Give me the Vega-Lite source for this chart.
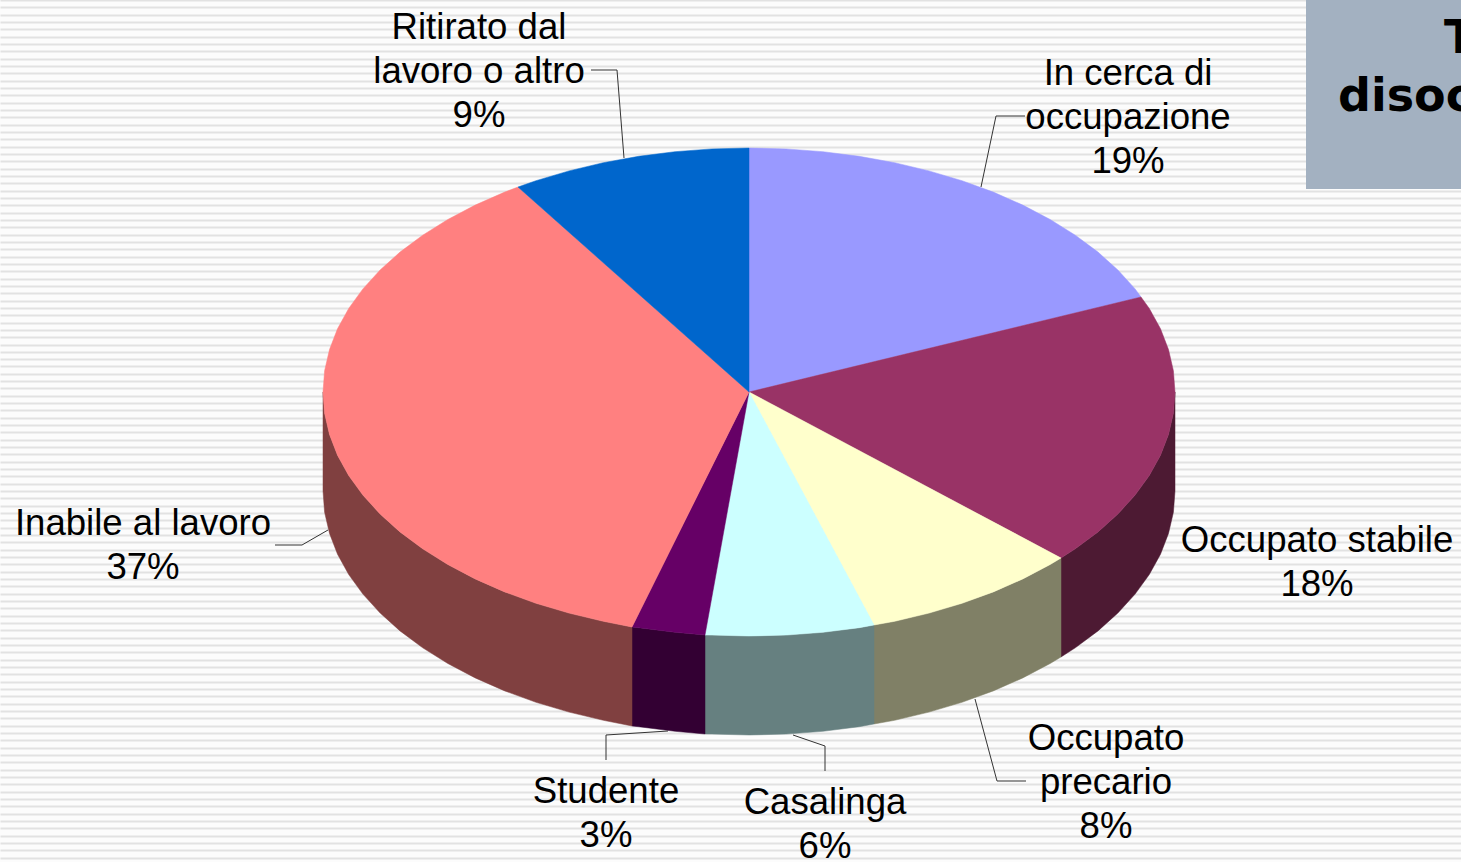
{"$schema":"https://vega.github.io/schema/vega-lite/v6.json","width":1461,"height":862,"padding":0,"autosize":{"type":"none"},"background":"#fcfcfc","config":{"view":{"stroke":null}},
"datasets":{
"shape":[
{"p":"side stabile","x":1175,"y":392},{"p":"side stabile","x":1173.4,"y":413.3},{"p":"side stabile","x":1168.5,"y":434.4},{"p":"side stabile","x":1160.5,"y":455.2},{"p":"side stabile","x":1149.3,"y":475.5},{"p":"side stabile","x":1135.1,"y":495.1},{"p":"side stabile","x":1117.9,"y":514},{"p":"side stabile","x":1098,"y":531.9},{"p":"side stabile","x":1075.3,"y":548.8},{"p":"side stabile","x":1061,"y":558},{"p":"side stabile","x":1061,"y":657},{"p":"side stabile","x":1075.3,"y":647.8},{"p":"side stabile","x":1098,"y":630.9},{"p":"side stabile","x":1117.9,"y":613},{"p":"side stabile","x":1135.1,"y":594.1},{"p":"side stabile","x":1149.3,"y":574.5},{"p":"side stabile","x":1160.5,"y":554.2},{"p":"side stabile","x":1168.5,"y":533.4},{"p":"side stabile","x":1173.4,"y":512.3},{"p":"side stabile","x":1175,"y":491},
{"p":"side precario","x":1061,"y":558},{"p":"side precario","x":1050.2,"y":564.5},{"p":"side precario","x":1022.8,"y":578.9},{"p":"side precario","x":993.3,"y":591.9},{"p":"side precario","x":962,"y":603.3},{"p":"side precario","x":929,"y":613.1},{"p":"side precario","x":894.7,"y":621.3},{"p":"side precario","x":874,"y":625},{"p":"side precario","x":874,"y":724},{"p":"side precario","x":894.7,"y":720.3},{"p":"side precario","x":929,"y":712.1},{"p":"side precario","x":962,"y":702.3},{"p":"side precario","x":993.3,"y":690.9},{"p":"side precario","x":1022.8,"y":677.9},{"p":"side precario","x":1050.2,"y":663.5},{"p":"side precario","x":1061,"y":657},
{"p":"side casalinga","x":874,"y":625},{"p":"side casalinga","x":859.3,"y":627.7},{"p":"side casalinga","x":823,"y":632.3},{"p":"side casalinga","x":786.1,"y":635.1},{"p":"side casalinga","x":749,"y":636},{"p":"side casalinga","x":711.9,"y":635.1},{"p":"side casalinga","x":705,"y":635},{"p":"side casalinga","x":705,"y":734},{"p":"side casalinga","x":711.9,"y":734.1},{"p":"side casalinga","x":749,"y":735},{"p":"side casalinga","x":786.1,"y":734.1},{"p":"side casalinga","x":823,"y":731.3},{"p":"side casalinga","x":859.3,"y":726.7},{"p":"side casalinga","x":874,"y":724},
{"p":"side studente","x":705,"y":635},{"p":"side studente","x":675,"y":632.3},{"p":"side studente","x":638.7,"y":627.7},{"p":"side studente","x":632,"y":627},{"p":"side studente","x":632,"y":726},{"p":"side studente","x":638.7,"y":726.7},{"p":"side studente","x":675,"y":731.3},{"p":"side studente","x":705,"y":734},
{"p":"side inabile","x":632,"y":627},{"p":"side inabile","x":603.3,"y":621.3},{"p":"side inabile","x":569,"y":613.1},{"p":"side inabile","x":536,"y":603.3},{"p":"side inabile","x":504.7,"y":591.9},{"p":"side inabile","x":475.2,"y":578.9},{"p":"side inabile","x":447.8,"y":564.5},{"p":"side inabile","x":422.7,"y":548.8},{"p":"side inabile","x":400,"y":531.9},{"p":"side inabile","x":380.1,"y":514},{"p":"side inabile","x":362.9,"y":495.1},{"p":"side inabile","x":348.7,"y":475.5},{"p":"side inabile","x":337.5,"y":455.2},{"p":"side inabile","x":329.5,"y":434.4},{"p":"side inabile","x":324.6,"y":413.3},{"p":"side inabile","x":323,"y":392},{"p":"side inabile","x":323,"y":491},{"p":"side inabile","x":324.6,"y":512.3},{"p":"side inabile","x":329.5,"y":533.4},{"p":"side inabile","x":337.5,"y":554.2},{"p":"side inabile","x":348.7,"y":574.5},{"p":"side inabile","x":362.9,"y":594.1},{"p":"side inabile","x":380.1,"y":613},{"p":"side inabile","x":400,"y":630.9},{"p":"side inabile","x":422.7,"y":647.8},{"p":"side inabile","x":447.8,"y":663.5},{"p":"side inabile","x":475.2,"y":677.9},{"p":"side inabile","x":504.7,"y":690.9},{"p":"side inabile","x":536,"y":702.3},{"p":"side inabile","x":569,"y":712.1},{"p":"side inabile","x":603.3,"y":720.3},{"p":"side inabile","x":632,"y":726},
{"p":"In cerca","x":749,"y":392},{"p":"In cerca","x":749,"y":148},{"p":"In cerca","x":786.1,"y":148.9},{"p":"In cerca","x":823,"y":151.7},{"p":"In cerca","x":859.3,"y":156.3},{"p":"In cerca","x":894.7,"y":162.7},{"p":"In cerca","x":929,"y":170.9},{"p":"In cerca","x":962,"y":180.7},{"p":"In cerca","x":993.3,"y":192.1},{"p":"In cerca","x":1022.8,"y":205.1},{"p":"In cerca","x":1050.2,"y":219.5},{"p":"In cerca","x":1075.3,"y":235.2},{"p":"In cerca","x":1098,"y":252.1},{"p":"In cerca","x":1117.9,"y":270},{"p":"In cerca","x":1135.1,"y":288.9},{"p":"In cerca","x":1141,"y":297},
{"p":"Stabile","x":749,"y":392},{"p":"Stabile","x":1141,"y":297},{"p":"Stabile","x":1149.3,"y":308.5},{"p":"Stabile","x":1160.5,"y":328.8},{"p":"Stabile","x":1168.5,"y":349.6},{"p":"Stabile","x":1173.4,"y":370.7},{"p":"Stabile","x":1175,"y":392},{"p":"Stabile","x":1173.4,"y":413.3},{"p":"Stabile","x":1168.5,"y":434.4},{"p":"Stabile","x":1160.5,"y":455.2},{"p":"Stabile","x":1149.3,"y":475.5},{"p":"Stabile","x":1135.1,"y":495.1},{"p":"Stabile","x":1117.9,"y":514},{"p":"Stabile","x":1098,"y":531.9},{"p":"Stabile","x":1075.3,"y":548.8},{"p":"Stabile","x":1061,"y":558},
{"p":"Precario","x":749,"y":392},{"p":"Precario","x":1061,"y":558},{"p":"Precario","x":1050.2,"y":564.5},{"p":"Precario","x":1022.8,"y":578.9},{"p":"Precario","x":993.3,"y":591.9},{"p":"Precario","x":962,"y":603.3},{"p":"Precario","x":929,"y":613.1},{"p":"Precario","x":894.7,"y":621.3},{"p":"Precario","x":874,"y":625},
{"p":"Casalinga","x":749,"y":392},{"p":"Casalinga","x":874,"y":625},{"p":"Casalinga","x":859.3,"y":627.7},{"p":"Casalinga","x":823,"y":632.3},{"p":"Casalinga","x":786.1,"y":635.1},{"p":"Casalinga","x":749,"y":636},{"p":"Casalinga","x":711.9,"y":635.1},{"p":"Casalinga","x":705,"y":635},
{"p":"Studente","x":749,"y":392},{"p":"Studente","x":705,"y":635},{"p":"Studente","x":675,"y":632.3},{"p":"Studente","x":638.7,"y":627.7},{"p":"Studente","x":632,"y":627},
{"p":"Inabile","x":749,"y":392},{"p":"Inabile","x":632,"y":627},{"p":"Inabile","x":603.3,"y":621.3},{"p":"Inabile","x":569,"y":613.1},{"p":"Inabile","x":536,"y":603.3},{"p":"Inabile","x":504.7,"y":591.9},{"p":"Inabile","x":475.2,"y":578.9},{"p":"Inabile","x":447.8,"y":564.5},{"p":"Inabile","x":422.7,"y":548.8},{"p":"Inabile","x":400,"y":531.9},{"p":"Inabile","x":380.1,"y":514},{"p":"Inabile","x":362.9,"y":495.1},{"p":"Inabile","x":348.7,"y":475.5},{"p":"Inabile","x":337.5,"y":455.2},{"p":"Inabile","x":329.5,"y":434.4},{"p":"Inabile","x":324.6,"y":413.3},{"p":"Inabile","x":323,"y":392},{"p":"Inabile","x":324.6,"y":370.7},{"p":"Inabile","x":329.5,"y":349.6},{"p":"Inabile","x":337.5,"y":328.8},{"p":"Inabile","x":348.7,"y":308.5},{"p":"Inabile","x":362.9,"y":288.9},{"p":"Inabile","x":380.1,"y":270},{"p":"Inabile","x":400,"y":252.1},{"p":"Inabile","x":422.7,"y":235.2},{"p":"Inabile","x":447.8,"y":219.5},{"p":"Inabile","x":475.2,"y":205.1},{"p":"Inabile","x":504.7,"y":192.1},{"p":"Inabile","x":518,"y":187},
{"p":"Ritirato","x":749,"y":392},{"p":"Ritirato","x":518,"y":187},{"p":"Ritirato","x":536,"y":180.7},{"p":"Ritirato","x":569,"y":170.9},{"p":"Ritirato","x":603.3,"y":162.7},{"p":"Ritirato","x":638.7,"y":156.3},{"p":"Ritirato","x":675,"y":151.7},{"p":"Ritirato","x":711.9,"y":148.9},{"p":"Ritirato","x":749,"y":148}
],
"leaders":[
{"p":"r","x":591,"y":70},{"p":"r","x":617,"y":70},{"p":"r","x":624,"y":158},
{"p":"c","x":1025,"y":116},{"p":"c","x":996,"y":116},{"p":"c","x":981,"y":187},
{"p":"i","x":275,"y":545},{"p":"i","x":302,"y":545},{"p":"i","x":328,"y":530},
{"p":"o","x":1026,"y":781},{"p":"o","x":997,"y":781},{"p":"o","x":975,"y":699},
{"p":"k","x":793,"y":735},{"p":"k","x":825,"y":746},{"p":"k","x":825,"y":771},
{"p":"s","x":668,"y":731},{"p":"s","x":606,"y":735},{"p":"s","x":606,"y":760}
],
"labels":[
{"t":"Ritirato dal\nlavoro o altro\n9%","x":479,"y":39},
{"t":"In cerca di\noccupazione\n19%","x":1128,"y":85},
{"t":"Occupato stabile\n18%","x":1317,"y":552},
{"t":"Occupato\nprecario\n8%","x":1106,"y":750},
{"t":"Casalinga\n6%","x":825,"y":814},
{"t":"Studente\n3%","x":606,"y":803},
{"t":"Inabile al lavoro\n37%","x":143,"y":535}
]
},
"resolve":{"scale":{"y":"independent"}},
"layer":[
{"data":{"values":[{"s":0}]},"mark":{"type":"rule","opacity":0},
"encoding":{"y":{"field":"s","type":"quantitative","scale":{"domain":[0,117.6],"reverse":true,"nice":false},"axis":{"tickCount":118,"grid":true,"gridColor":"#e2e2e2","gridWidth":2,"labels":false,"ticks":false,"domain":false,"title":null}}}},
{"data":{"name":"shape"},"mark":{"type":"line","interpolate":"linear-closed","strokeWidth":0.5},
"encoding":{
"x":{"field":"x","type":"quantitative","scale":{"domain":[0,1461],"nice":false,"zero":false},"axis":null},
"y":{"field":"y","type":"quantitative","scale":{"domain":[862,0],"nice":false,"zero":false},"axis":null},
"order":{"value":null},
"fill":{"field":"p","type":"nominal","legend":null,"sort":null,"scale":{"domain":["side stabile","side precario","side casalinga","side studente","side inabile","In cerca","Stabile","Precario","Casalinga","Studente","Inabile","Ritirato"],"range":["#4d1a33","#808066","#668080","#330033","#804040","#9999ff","#993366","#ffffcc","#ccffff","#660066","#ff8080","#0066cc"]}},
"stroke":{"field":"p","type":"nominal","legend":null,"scale":{"domain":["side stabile","side precario","side casalinga","side studente","side inabile","In cerca","Stabile","Precario","Casalinga","Studente","Inabile","Ritirato"],"range":["#4d1a33","#808066","#668080","#330033","#804040","#9999ff","#993366","#ffffcc","#ccffff","#660066","#ff8080","#0066cc"]}}
}},
{"data":{"name":"leaders"},"mark":{"type":"line","color":"#333333","strokeWidth":1},
"encoding":{
"x":{"field":"x","type":"quantitative","scale":{"domain":[0,1461],"nice":false,"zero":false},"axis":null},
"y":{"field":"y","type":"quantitative","scale":{"domain":[862,0],"nice":false,"zero":false},"axis":null},
"detail":{"field":"p"},"order":{"value":null}}},
{"data":{"name":"labels"},"mark":{"type":"text","font":"Liberation Sans","fontSize":36.6,"lineHeight":44,"lineBreak":"\n","align":"center","baseline":"alphabetic","color":"#000000"},
"encoding":{
"x":{"field":"x","type":"quantitative","scale":{"domain":[0,1461],"nice":false,"zero":false},"axis":null},
"y":{"field":"y","type":"quantitative","scale":{"domain":[862,0],"nice":false,"zero":false},"axis":null},
"text":{"field":"t"}}},
{"data":{"values":[{"x":1306,"x2":1461,"y":0,"y2":189}]},"mark":{"type":"rect","color":"#a3b1c1"},
"encoding":{
"x":{"field":"x","type":"quantitative","scale":{"domain":[0,1461],"nice":false,"zero":false},"axis":null},"x2":{"field":"x2"},
"y":{"field":"y","type":"quantitative","scale":{"domain":[862,0],"nice":false,"zero":false},"axis":null},"y2":{"field":"y2"}}},
{"data":{"values":[{"t":"T","x":1444,"y":53},{"t":"disoc","x":1338,"y":111}]},"mark":{"type":"text","font":"DejaVu Sans","fontWeight":"bold","fontSize":46,"align":"left","baseline":"alphabetic","color":"#000000","clip":true},
"encoding":{
"x":{"field":"x","type":"quantitative","scale":{"domain":[0,1461],"nice":false,"zero":false},"axis":null},
"y":{"field":"y","type":"quantitative","scale":{"domain":[862,0],"nice":false,"zero":false},"axis":null},
"text":{"field":"t"}}}
]}
